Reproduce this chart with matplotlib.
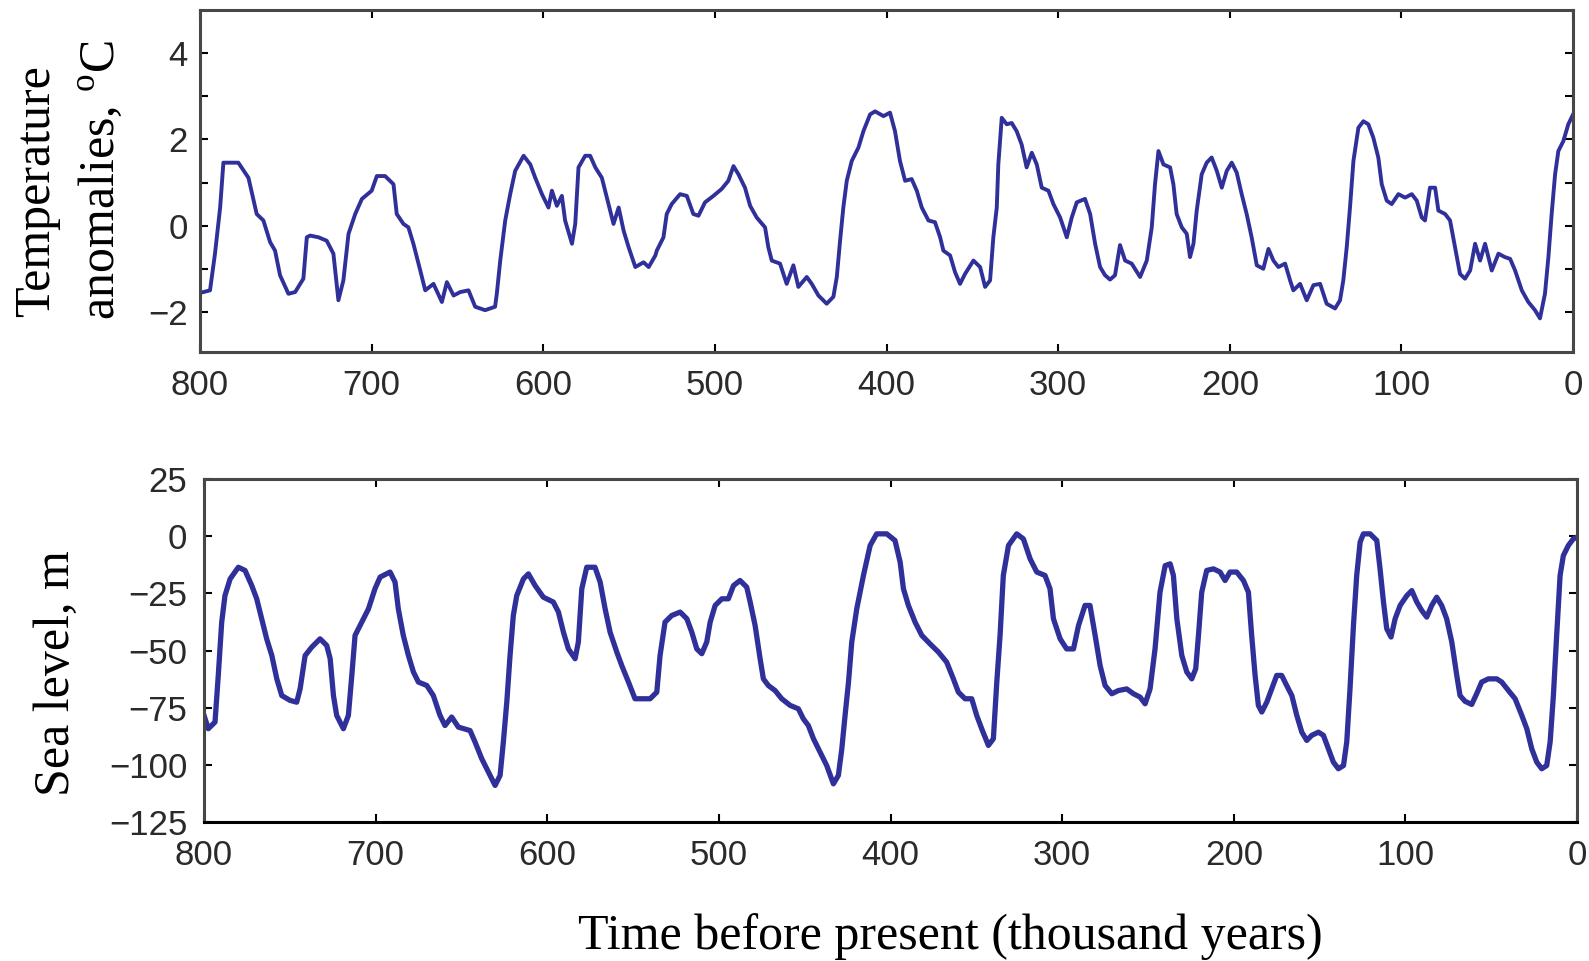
import numpy as np
import matplotlib.pyplot as plt

plt.rcParams['mathtext.fontset'] = 'custom'
plt.rcParams['mathtext.rm'] = 'Liberation Serif'

#---------------------------------datos---------------------------------------------------------------------
# edad (miles de anos antes del presente) y anomalia de temperatura (oC)
edad_temp = [799, 794.2, 791.3, 788.3, 786.4, 777.7, 771.8, 767, 763.1, 759.2, 756.3, 753.4, 748.5, 744.6,
             739.8, 737.8, 735.9, 731, 726.2, 722.3, 719.4, 716.5, 713.5, 709.6, 705.7, 700, 697, 692.2,
             687.3, 685.4, 681.5, 678.6, 675.7, 671.7, 668.8, 664, 659.1, 656.2, 652.3, 648.4, 643.6, 639.7,
             633.9, 628.1, 627.1, 625.1, 622.2, 619.3, 616.4, 611.5, 607.6, 604.7, 600.8, 597, 595, 592.1,
             589.2, 587.3, 583.3, 581.4, 579.5, 575.6, 572.7, 569.7, 565.9, 562, 559.1, 556.1, 553.2, 550.3,
             546.4, 541.6, 538.6, 534.7, 533.9, 530, 528.1, 525.2, 520.3, 516.4, 512.6, 509.6, 505.8, 500.9,
             496.1, 492.2, 489.2, 486.3, 482.5, 479.5, 475.7, 470.8, 468.9, 466.9, 462.1, 458.2, 454.3, 451.4,
             446.5, 443.6, 439.7, 434.9, 431, 429, 427.1, 425.2, 423.2, 420.3, 416.4, 413.5, 409.6, 406.7,
             401.8, 398, 395.1, 392.2, 389.2, 385.4, 382.4, 379.5, 375.6, 371.8, 368.8, 366.9, 363, 360.1,
             357.2, 354.3, 349.4, 345.5, 342.6, 339.7, 337.8, 335.8, 334.9, 332.9, 330, 327.1, 324.2, 321.3,
             318.4, 315.4, 312.5, 309.6, 305.7, 302.8, 298.9, 295, 292.1, 289.2, 284.4, 281.4, 278.5, 275.6,
             272.7, 269.8, 266.9, 264, 261, 257.2, 252.3, 248.4, 245.5, 243.6, 241.6, 238.7, 234.8, 232.9,
             231, 228, 225.1, 223.2, 221.2, 219.3, 216.4, 213.5, 210.6, 207.6, 204.7, 201.8, 198.9, 196,
             193.1, 190.2, 187.3, 184.3, 180.5, 177.5, 174.6, 171.7, 167.8, 164.9, 163, 159.1, 155.2, 151.3,
             147.4, 143.6, 138.7, 135.8, 133.9, 131.9, 130, 128, 125.1, 122.2, 119.3, 116.4, 113.5, 111.5,
             108.6, 105.7, 101.8, 97.9, 94, 91.1, 88.2, 86.3, 83.4, 80.4, 78.5, 74.6, 71.7, 68.8, 65.9, 63,
             60, 57.1, 54.2, 51.3, 47.4, 43.5, 39.7, 36.7, 33.8, 29.9, 26.1, 22.2, 19.3, 16.4, 14.4, 12.5,
             10.5, 8.6, 5.7, 2.8, 0]
temperatura = [-1.55, -1.5, -0.65, 0.42, 1.46, 1.46, 1.11, 0.27, 0.12, -0.38, -0.58, -1.15, -1.58, -1.54,
               -1.23, -0.27, -0.23, -0.27, -0.35, -0.65, -1.73, -1.27, -0.19, 0.27, 0.62, 0.81, 1.15, 1.15,
               0.96, 0.27, 0.04, -0.04, -0.42, -1.04, -1.5, -1.35, -1.77, -1.31, -1.62, -1.54, -1.5, -1.88,
               -1.96, -1.88, -1.58, -0.81, 0.12, 0.73, 1.27, 1.62, 1.42, 1.11, 0.73, 0.42, 0.81, 0.46,
               0.69, 0.12, -0.42, 0.04, 1.35, 1.62, 1.62, 1.35, 1.11, 0.5, 0.04, 0.42, -0.12, -0.5,
               -0.96, -0.85, -0.96, -0.69, -0.58, -0.27, 0.27, 0.5, 0.73, 0.69, 0.27, 0.23, 0.54, 0.69,
               0.85, 1.04, 1.38, 1.19, 0.88, 0.46, 0.19, -0.04, -0.5, -0.81, -0.88, -1.35, -0.92, -1.42,
               -1.19, -1.35, -1.62, -1.81, -1.65, -1.19, -0.35, 0.42, 1.04, 1.5, 1.81, 2.19, 2.58, 2.65,
               2.54, 2.62, 2.19, 1.5, 1.04, 1.08, 0.81, 0.42, 0.12, 0.08, -0.27, -0.58, -0.69, -1.08,
               -1.35, -1.12, -0.81, -0.96, -1.42, -1.27, -0.27, 0.42, 1.42, 2.5, 2.35, 2.38, 2.19, 1.88,
               1.35, 1.69, 1.42, 0.88, 0.81, 0.5, 0.19, -0.27, 0.19, 0.54, 0.62, 0.27, -0.42, -0.96,
               -1.15, -1.25, -1.15, -0.45, -0.81, -0.88, -1.19, -0.81, -0.04, 0.96, 1.73, 1.42, 1.35, 0.96,
               0.27, -0.04, -0.19, -0.73, -0.42, 0.35, 1.19, 1.46, 1.58, 1.27, 0.88, 1.27, 1.46, 1.23,
               0.73, 0.27, -0.27, -0.92, -1.0, -0.54, -0.81, -0.96, -0.88, -1.27, -1.5, -1.35, -1.73, -1.38,
               -1.35, -1.81, -1.92, -1.73, -1.27, -0.5, 0.42, 1.5, 2.27, 2.42, 2.35, 2.04, 1.58, 0.96,
               0.58, 0.5, 0.73, 0.65, 0.73, 0.58, 0.19, 0.12, 0.88, 0.88, 0.35, 0.27, 0.12, -0.5, -1.12, -1.23,
               -1.04, -0.42, -0.81, -0.42, -1.04, -0.65, -0.73, -0.77, -1.04, -1.5, -1.77, -1.96, -2.15, -1.58, -0.73, 0.27,
               1.19, 1.73, 1.96, 2.35, 2.58]

# edad y nivel del mar (m)
edad_mar = [800, 797.5, 793.6, 791.7, 789.7, 787.8, 784.8, 780, 776.1, 772.2, 769.3, 766.4, 763.5, 760.5,
            757.6, 754.7, 749.9, 746, 744, 741.1, 737.2, 732.4, 728.5, 726.5, 724.6, 722.7, 718.8, 715.9,
            713.9, 712, 708.1, 704.2, 700.4, 697.4, 691.6, 688.7, 686.8, 683.9, 680.9, 678, 675.1, 670.2,
            666.4, 662.5, 659.6, 655.7, 651.8, 645, 642.1, 638.2, 634.3, 630.4, 627.5, 625.6, 623.6, 621.7,
            619.8, 617.8, 613.9, 611, 607.1, 602.3, 596.5, 593.5, 590.6, 587.7, 583.8, 581.9, 579.9, 577,
            572.2, 569.2, 566.3, 563.4, 559.5, 556.6, 552.7, 548.9, 545, 540.1, 536.2, 534.3, 531.4, 527.5,
            522.6, 518.7, 515.8, 512.9, 510, 507.1, 505.1, 502.2, 498.3, 494.5, 491.5, 487.7, 483.8, 481.8,
            478.9, 476, 474.1, 471.2, 467.3, 463.4, 458.5, 453.7, 450.8, 447.9, 444.9, 441.1, 437.2, 433.3,
            430.4, 428.4, 426.5, 424.5, 422.6, 419.7, 415.8, 411.9, 408.1, 402.2, 397.4, 394.4, 392.5, 389.6,
            385.7, 381.8, 377, 372.1, 367.3, 363.4, 360.5, 356.6, 352.7, 349.8, 346.9, 343, 340.1, 338.1,
            336.2, 334.3, 331.3, 326.5, 322.6, 318.7, 314.8, 310, 307.1, 305.1, 301.2, 297.4, 293.4, 290.5,
            286.7, 283.8, 280.8, 277.9, 275, 271.1, 267.2, 262.4, 258.5, 254.6, 251.7, 248.8, 245.9, 243,
            240, 237.1, 235.2, 233.2, 230.3, 227.4, 224.5, 222.2, 220.6, 218.7, 215.8, 211.9, 208, 205.1,
            202.2, 198.3, 194.4, 191.5, 189.6, 187.6, 185.7, 183.7, 180.8, 177.9, 175, 172.1, 169.2, 166.2,
            163.3, 160.4, 157.5, 154.6, 150.7, 147.8, 144.9, 142, 139.1, 136.1, 134.2, 132.3, 130.3, 128.4,
            126.4, 124.5, 120.6, 116.7, 114.8, 112.8, 110.9, 108.4, 106, 103.1, 99.2, 96.3, 93.4, 90.5,
            87.6, 84.7, 81.8, 78.9, 76, 73, 70.1, 68.2, 65.3, 61.4, 58.5, 55.6, 51.7, 46.8, 43.9, 40,
            36.1, 32.2, 29.3, 26.4, 23.5, 20.6, 17.7, 15.7, 13.8, 11.9, 9.9, 8, 5.1, 2.2, 0.2]
nivel_mar = [-78.4, -84.2, -81.3, -60.9, -37.6, -26, -18.7, -13.6, -15, -21.6, -27.4, -36.1, -44.9, -52.2,
             -62.4, -69.7, -71.8, -72.6, -66.7, -52.2, -48.5, -44.9, -47.8, -53.6, -69.7, -78.4, -84.2, -78.4,
             -60.9, -43.4, -37.6, -31.8, -23, -17.9, -15.7, -20.1, -31.8, -43.4, -52.2, -59.4, -63.8, -65.3,
             -69.7, -78.4, -82.8, -79.1, -83.5, -85, -90, -97.3, -103.1, -109, -104.6, -90, -72.6, -52.2,
             -34.7, -26, -18.7, -16.5, -21.6, -26.7, -28.8, -33.2, -42, -49.3, -53.6, -46.3, -23, -13.6,
             -13.6, -20.1, -31.8, -42, -50.7, -56.6, -63.8, -71.1, -71.1, -71.1, -68.2, -52.2, -37.6, -34.7,
             -33.2, -36.1, -42, -49.3, -51.4, -46.3, -37.6, -30.3, -27.4, -27.4, -21.6, -19.4, -22.3, -28.8,
             -39.1, -53.6, -62.4, -65.3, -67.5, -71.1, -74, -75.5, -79.9, -82.8, -88.6, -94.4, -100.3, -108.3,
             -104.6, -93, -78.4, -63.8, -46.3, -31.8, -17.2, -4.1, 1.0, 1.0, -1.9, -11.4, -23, -30.3,
             -37.6, -43.4, -47.1, -50.7, -55.1, -62.4, -68.2, -71.1, -71.1, -78.4, -84.2, -91.5, -88.6, -63.8,
             -43.4, -17.2, -4.1, 1.0, -1.2, -9.9, -15.7, -17.2, -23, -36.1, -44.9, -49.3, -49.3, -39.1,
             -30.3, -30.3, -43.4, -56.6, -65.3, -68.9, -67.5, -66.8, -68.9, -70.4, -73.3, -66.8, -49.3, -24.5,
             -12.9, -12.1, -17.2, -36.1, -52.2, -59.4, -62.4, -58, -43.4, -24.5, -15, -14.3, -15.7, -19.4,
             -15.7, -15.7, -19.4, -24.5, -43.4, -60.9, -74, -76.9, -72.6, -66.7, -60.9, -60.9, -65.3, -69.7,
             -78.4, -85.7, -89.3, -87.1, -85.7, -87.1, -93, -98.8, -101.7, -100.3, -90, -66.7, -39.1, -17.2,
             -2.6, 1.0, 1.0, -1.9, -14.3, -28.8, -40.5, -44.1, -36.1, -30.3, -26, -23.8, -28.8, -32.5,
             -35.4, -30.3, -26.7, -30.3, -36.1, -46.3, -60.9, -69.7, -72.2, -73.6, -68.9, -63.8, -62.4, -62.4, -63.8, -67.5,
             -71.1, -78.4, -84.2, -93, -98.8, -101.7, -100.3, -90, -69.7, -43.4, -17.2, -8.5, -4.1, -1.2, -0.5]

ticks_x = [800, 700, 600, 500, 400, 300, 200, 100, 0]
ticks_temp = [-2, 0, 2, 4]
ticks_mar = [-125, -100, -75, -50, -25, 0, 25]

color_linea = '#30309a'
color_marco = '#474747'

#---------------------------------figura---------------------------------------------------------------------
fig = plt.figure(figsize=(15.89, 9.61), dpi=100)
ax1 = fig.add_axes([0.1259, 0.6337, 0.8641, 0.3559])
ax2 = fig.add_axes([0.1284, 0.1446, 0.8641, 0.3570])

ax1.plot(edad_temp, temperatura, color=color_linea, linewidth=2.8, solid_joinstyle='round')
ax2.plot(edad_mar, nivel_mar, color=color_linea, linewidth=3.8, solid_joinstyle='round')

ax1.set_xlim(800, 0)
ax1.set_ylim(-2.93, 5)
ax1.set_yticks(ticks_temp)
ax1.set_yticks(range(-2, 5), minor=True)

ax2.set_xlim(800, 0)
ax2.set_ylim(-125, 25)
ax2.set_yticks(ticks_mar)

for ax in [ax1, ax2]:
    ax.set_xticks(ticks_x)
    ax.set_xticklabels([str(t) for t in ticks_x])
    for s in ax.spines.values():
        s.set_linewidth(2.2)
        s.set_color(color_marco)
    ax.tick_params(which='both', direction='in', top=True, right=True, length=6, width=1.5,
                   color='black', labelsize=25, labelcolor='#2a2a2a')
    ax.tick_params(axis='x', pad=12)
    for lab in ax.get_xticklabels() + ax.get_yticklabels():
        lab.set_family('Liberation Sans')

ax1.tick_params(axis='y', pad=9)
ax2.tick_params(axis='y', pad=12)
ax2.spines['bottom'].set_color('black')

# etiquetas de los ejes (texto con serifa)
fig.text(0.0233, 0.8013, 'Temperature', rotation=90, ha='center', va='center',
         family='Liberation Serif', fontsize=36)
fig.text(0.0635, 0.8127, r'anomalies, $^{\rm o}$C', rotation=90, ha='center', va='center',
         family='Liberation Serif', fontsize=36)
fig.text(0.0359, 0.2997, 'Sea level, m', rotation=90, ha='center', va='center',
         family='Liberation Serif', fontsize=36)
fig.text(0.598, 0.025, 'Time before present (thousand years)', ha='center', va='center',
         family='Liberation Serif', fontsize=36)

plt.savefig('out.png', dpi=100)
